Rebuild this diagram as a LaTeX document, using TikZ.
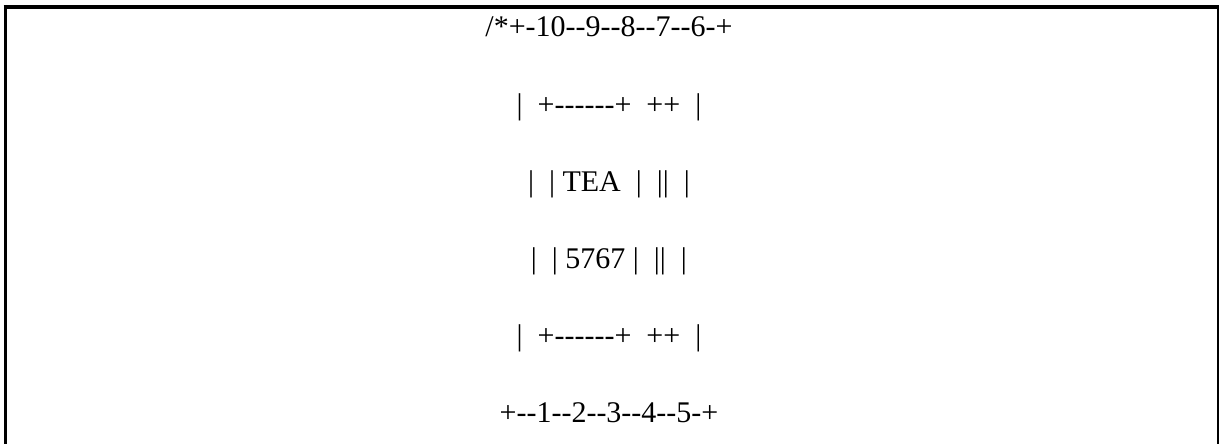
\documentclass[tikz,border=0pt]{standalone}
\usepackage{fontspec}
\newfontfamily\plainserif{Liberation Serif}

\begin{document}
\begin{tikzpicture}[x=1pt,y=-1pt,
        textline/.style={anchor=base, inner sep=0pt,
            font=\plainserif\fontsize{30}{36}\selectfont}]
        \useasboundingbox (0,0) rectangle (1219,444);

        % frame, open at the bottom
        \draw [line width=4pt] (3.5,7) -- (1219,7);
        \draw [line width=3pt] (5,5) -- (5,444);
        \draw [line width=2pt] (1218,6) -- (1218,444);

        \node [textline] (rowa) at (609,37)  {/*+-10--9--8--7--6-+};
        \node [textline] (rowb) at (609,114) {|~~+------+~~++~~|};
        \node [textline] (rowc) at (609,191) {|~~|~TEA~~|~~||~~|};
        \node [textline] (rowd) at (609,268) {|~~|~5767~|~~||~~|};
        \node [textline] (rowe) at (609,345) {|~~+------+~~++~~|};
        \node [textline] (rowf) at (609,422) {+--1--2--3--4--5-+};

\end{tikzpicture}
\end{document}
